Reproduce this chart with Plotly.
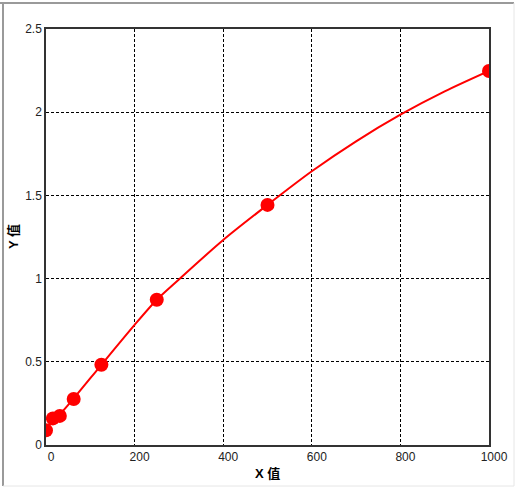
import plotly.graph_objects as go

# standard points
x_pts = [0, 15.6, 31.25, 62.5, 125, 250, 500, 1000]
y_pts = [0.088, 0.160, 0.175, 0.276, 0.482, 0.873, 1.443, 2.248]

# fitted curve
x_fit = [0, 15.6, 31.25, 62.5, 125, 200, 250, 300, 400, 500, 600, 700, 800, 900, 1000]
y_fit = [0.088, 0.150, 0.185, 0.280, 0.482, 0.722, 0.873, 0.995, 1.232, 1.443, 1.645, 1.825, 1.985, 2.125, 2.248]

x_ticks = [0, 200, 400, 600, 800, 1000]
y_ticks = [0, 0.5, 1, 1.5, 2, 2.5]

W, H = 518, 490
L, R, T, B = 46, 489, 29, 445

FONT = "Liberation Sans, Arial, Noto Sans CJK SC"


def px(xp):
    return (xp - L) / (R - L)


def py(yp):
    return (B - yp) / (B - T)


fig = go.Figure()
fig.add_trace(
    go.Scatter(
        x=x_fit,
        y=y_fit,
        mode="lines",
        line=dict(color="#ff0000", width=2, shape="spline", smoothing=0.8),
        hoverinfo="skip",
        showlegend=False,
    )
)
fig.add_trace(
    go.Scatter(
        x=x_pts,
        y=y_pts,
        mode="markers",
        marker=dict(color="#ff0000", size=14, symbol="circle"),
        showlegend=False,
    )
)

# window frame around the picture
frame = [
    (0, 3, 514, 3, "#9a9a9a", 2),
    (3, 3, 3, 486, "#9a9a9a", 2),
    (3, 486, 514, 486, "#e6e6e6", 1),
    (514, 3, 514, 486, "#e6e6e6", 1),
]
for x0, y0, x1, y1, col, w in frame:
    fig.add_shape(
        type="line",
        xref="paper",
        yref="paper",
        x0=px(x0),
        y0=py(y0),
        x1=px(x1),
        y1=py(y1),
        line=dict(color=col, width=w),
    )

# axis titles
title_font = dict(family=FONT, size=13, color="#000000")
fig.add_annotation(
    text="<b>X 值</b>", xref="paper", yref="paper",
    x=0.5, y=py(473), xanchor="center", yanchor="middle",
    showarrow=False, font=title_font,
)
fig.add_annotation(
    text="<b>Y 值</b>", xref="paper", yref="paper",
    x=px(13), y=0.5, xanchor="center", yanchor="middle", textangle=-90,
    showarrow=False, font=title_font,
)

axis_common = dict(
    showline=True,
    linecolor="#333333",
    linewidth=1.5,
    mirror=True,
    showgrid=True,
    gridcolor="#000000",
    gridwidth=1,
    griddash="3px,2px",
    zeroline=False,
    ticks="",
    automargin=False,
    tickfont=dict(family=FONT, size=12, color="#222222"),
)

fig.update_xaxes(
    range=[0, 1000],
    tickvals=x_ticks,
    ticktext=[str(v) for v in x_ticks],
    ticklabelshift=5,
    **axis_common,
)
fig.update_yaxes(
    range=[0, 2.5],
    tickvals=y_ticks,
    ticktext=["0", "0.5", "1", "1.5", "2", "2.5"],
    **axis_common,
)

fig.update_layout(
    width=W,
    height=H,
    margin=dict(l=L, r=W - R, t=T, b=H - B),
    paper_bgcolor="#ffffff",
    plot_bgcolor="#ffffff",
    showlegend=False,
)

fig.write_html(
    "out.html",
    config={"displayModeBar": False},
    post_script="document.body.style.margin = '0';",
)
